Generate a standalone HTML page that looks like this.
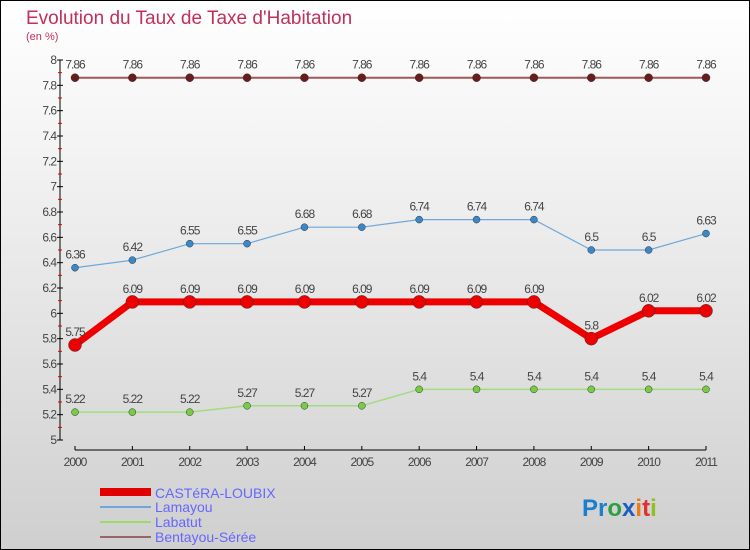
<!DOCTYPE html>
<html><head><meta charset="utf-8"><style>
body{margin:0}
#c{width:750px;height:550px;position:relative;overflow:hidden;background:linear-gradient(#ffffff,#f2f2f2 30%,#cfcfcf);}
svg{position:absolute;left:0;top:0;font-family:"Liberation Sans",sans-serif}
</style></head><body>
<div id="c">
<svg id="s" width="750" height="550">
<rect x="0.5" y="0.5" width="749" height="549" fill="none" stroke="#000"/>
<text x="26" y="24" font-size="19" fill="#c0305a">Evolution du Taux de Taxe d'Habitation</text>
<text x="26" y="40" font-size="11" fill="#c0305a">(en %)</text>
<g id="axes"></g><g id="series"></g>
<g>
<rect x="100" y="488" width="51" height="8" fill="#e00000"/>
<text x="155" y="498" font-size="14" fill="#6666ff">CASTéRA-LOUBIX</text>
<line x1="100" y1="507" x2="151" y2="507" stroke="#6fa8d8" stroke-width="2"/>
<text x="155" y="512" font-size="14" fill="#6666ff">Lamayou</text>
<line x1="100" y1="522" x2="151" y2="522" stroke="#99dd66" stroke-width="2"/>
<text x="155" y="527" font-size="14" fill="#6666ff">Labatut</text>
<line x1="100" y1="537" x2="151" y2="537" stroke="#996666" stroke-width="2"/>
<text x="155" y="542" font-size="14" fill="#6666ff">Bentayou-Sérée</text>
</g>
<text x="582" y="516" font-size="24" font-weight="bold"><tspan fill="#1a7fd0">Pr</tspan><tspan fill="#2aa040">o</tspan><tspan fill="#1a5fc0">x</tspan><tspan fill="#f07a10">i</tspan><tspan fill="#e03030">t</tspan><tspan fill="#90c020">i</tspan></text>
</svg></div>
<script>
const years=[2000,2001,2002,2003,2004,2005,2006,2007,2008,2009,2010,2011];
const castera=[5.75,6.09,6.09,6.09,6.09,6.09,6.09,6.09,6.09,5.8,6.02,6.02];
const lamayou=[6.36,6.42,6.55,6.55,6.68,6.68,6.74,6.74,6.74,6.5,6.5,6.63];
const labatut=[5.22,5.22,5.22,5.27,5.27,5.27,5.4,5.4,5.4,5.4,5.4,5.4];
const bentayou=[7.86,7.86,7.86,7.86,7.86,7.86,7.86,7.86,7.86,7.86,7.86,7.86];
const yTicks=[5,5.2,5.4,5.6,5.8,6,6.2,6.4,6.6,6.8,7,7.2,7.4,7.6,7.8,8];
const NS="http://www.w3.org/2000/svg";
const X=i=>75+i*(706-75)/(years.length-1);
const Y=v=>440-(v-5)*380/3;
function mk(t,a,p){const e=document.createElementNS(NS,t);for(const k in a)e.setAttribute(k,a[k]);p.appendChild(e);return e;}
const ax=document.getElementById('axes');
let l=mk('line',{x1:60,y1:60,x2:60,y2:440,stroke:'#000'},ax);


l=mk('line',{x1:75,y1:450,x2:706,y2:450,stroke:'#000'},ax);


yTicks.forEach((v,i)=>{
 const y=Y(v);
 mk('line',{x1:57,y1:y,x2:63,y2:y,stroke:'#000'},ax);
 if(i<yTicks.length-1){mk('line',{x1:58,y1:Y(v+0.1),x2:62,y2:Y(v+0.1),stroke:'#e00000'},ax);}
 const t=mk('text',{x:56,y:y+4,'font-size':12,'text-anchor':'end',fill:'#444','letter-spacing':'-1'},ax);
 t.textContent=String(+v.toFixed(1));
 
 
});
years.forEach((yr,i)=>{
 const x=X(i);
 mk('line',{x1:x,y1:446,x2:x,y2:450,stroke:'#000'},ax);
 const t=mk('text',{x:x,y:466,'font-size':12,'text-anchor':'middle',fill:'#444','letter-spacing':'-1'},ax);
 t.textContent=yr;
 
 
});
const sg=document.getElementById('series');
function draw(vals,color,dot,w,r,name){
 const g=mk('g',{},sg);
 
 
 const p=mk('polyline',{points:vals.map((v,i)=>X(i)+','+Y(v)).join(' '),fill:'none',stroke:color,'stroke-width':w},g);
 
 
 vals.forEach((v,i)=>{
  const c=mk('circle',{cx:X(i),cy:Y(v),r:r,fill:dot,stroke:'#333','stroke-width':0.5},g);
  
  
  const t=mk('text',{x:X(i),y:Y(v)-9,'font-size':12,'text-anchor':'middle',fill:'#444','letter-spacing':'-1'},g);
  t.textContent=String(v);
  
  
 });
}
draw(bentayou,'#a05858','#6a1c1c',2,4,'bentayou');
draw(lamayou,'#6fa8d8','#3a88c8',1.2,3.5,'lamayou');
draw(labatut,'#a0dd80','#77cc44',1.5,3.5,'labatut');
draw(castera,'#ee0000','#ee0000',7,6.5,'castera');
</script>
</body></html>
